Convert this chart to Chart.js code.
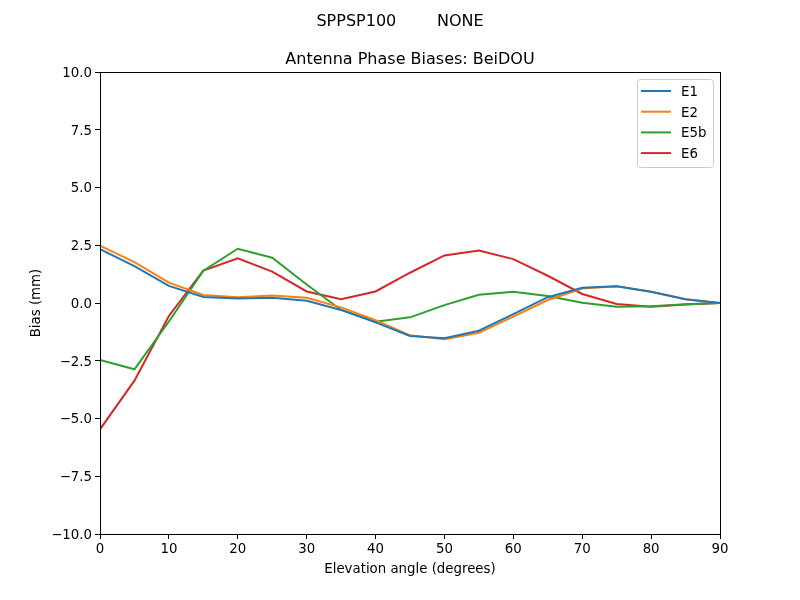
<!DOCTYPE html>
<html>
<head>
<meta charset="utf-8">
<script src="https://cdn.jsdelivr.net/npm/chart.js@4.4.0/dist/chart.umd.min.js"></script>
<style>
  html, body { margin: 0; padding: 0; background: #fff; }
  #wrap { width: 800px; height: 600px; }
</style>
</head>
<body>
<div id="wrap"><canvas id="biasChart" width="800" height="600"></canvas></div>
<script>
// elevation angles (degrees)
const angles = [0, 5, 10, 15, 20, 25, 30, 35, 40, 45, 50, 55, 60, 65, 70, 75, 80, 85, 90];

// bias values (mm)
const e1  = [2.33, 1.6, 0.74, 0.26, 0.19, 0.23, 0.1, -0.3, -0.84, -1.43, -1.53, -1.2, -0.48, 0.25, 0.66, 0.72, 0.49, 0.16, 0];
const e2  = [2.48, 1.77, 0.88, 0.35, 0.25, 0.32, 0.23, -0.19, -0.74, -1.4, -1.57, -1.29, -0.59, 0.13, 0.63, 0.72, 0.49, 0.16, 0];
const e5b = [-2.47, -2.87, -0.8, 1.4, 2.35, 1.96, 0.8, -0.3, -0.81, -0.62, -0.09, 0.36, 0.49, 0.3, 0.01, -0.16, -0.14, -0.05, 0];
const e6  = [-5.47, -3.36, -0.56, 1.4, 1.93, 1.36, 0.5, 0.16, 0.5, 1.31, 2.06, 2.27, 1.9, 1.18, 0.39, -0.04, -0.16, -0.07, 0];

const seriesNames  = ["E1", "E2", "E5b", "E6"];
const seriesData   = [e1, e2, e5b, e6];
const seriesColors = ["#1f77b4", "#ff7f0e", "#2ca02c", "#d62728"];

const suptitle = "SPPSP100        NONE";
const axTitle = "Antenna Phase Biases: BeiDOU";
const xLabel = "Elevation angle (degrees)";
const yLabel = "Bias (mm)";

const FONT = "'DejaVu Sans', sans-serif";

// build datasets
const datasets = seriesNames.map((name, i) => ({
  label: name,
  data: angles.map((a, j) => ({ x: a, y: seriesData[i][j] })),
  borderColor: seriesColors[i],
  backgroundColor: seriesColors[i],
  borderWidth: 2,
  pointRadius: 0,
  tension: 0,
  fill: false
}));

// frame, titles, axis labels, legend
const decorPlugin = {
  id: "decor",
  afterDraw(chart) {
    const c = chart.ctx;
    const a = chart.chartArea;
    c.save();
    // frame
    c.strokeStyle = "#000";
    c.lineWidth = 1;
    c.strokeRect(Math.round(a.left) + 0.5, Math.round(a.top) + 0.5, Math.round(a.right - a.left), Math.round(a.bottom - a.top));

    c.fillStyle = "#000";
    c.textAlign = "center";
    c.textBaseline = "middle";
    c.font = "16px " + FONT;
    c.fillText(suptitle, 400, 21.5);
    c.fillText(axTitle, (a.left + a.right) / 2, 59.5);

    c.font = "13.33px " + FONT;
    c.fillText(xLabel, (a.left + a.right) / 2, 570);
    c.save();
    c.translate(36.5, (a.top + a.bottom) / 2);
    c.rotate(-Math.PI / 2);
    c.fillText(yLabel, 0, 0);
    c.restore();

    // legend box
    const lx = 637, ly = 79, lw = 76, lh = 88;
    c.beginPath();
    c.roundRect(lx + 0.5, ly + 0.5, lw, lh, 3);
    c.fillStyle = "rgba(255,255,255,0.8)";
    c.fill();
    c.strokeStyle = "#cccccc";
    c.stroke();
    c.textAlign = "left";
    seriesNames.forEach((name, i) => {
      const y = 91 + i * 20.7;
      c.strokeStyle = seriesColors[i];
      c.lineWidth = 2;
      c.beginPath();
      c.moveTo(641, y);
      c.lineTo(671, y);
      c.stroke();
      c.fillStyle = "#000";
      c.fillText(name, 681, y + 1.5);
    });
    c.restore();
  }
};

const ctx = document.getElementById("biasChart").getContext("2d");
const biasChart = new Chart(ctx, {
  type: "line",
  data: { datasets: datasets },
  options: {
    responsive: false,
    devicePixelRatio: 1,
    animation: false,
    layout: { padding: { top: 72, right: 80, left: 0, bottom: 0 } },
    plugins: { legend: { display: false }, title: { display: false }, tooltip: { enabled: false } },
    scales: {
      x: {
        type: "linear",
        min: 0,
        max: 90,
        afterFit(scale) { scale.height = 66; },
        ticks: {
          stepSize: 10,
          color: "#000",
          padding: 3,
          maxRotation: 0,
          font: { family: FONT, size: 13.33 },
          callback: v => String(v)
        },
        grid: { drawOnChartArea: false, drawTicks: true, tickLength: 5, color: "#000" },
        border: { display: true, color: "#000", width: 1 }
      },
      y: {
        type: "linear",
        min: -10,
        max: 10,
        afterFit(scale) { scale.width = 100; },
        ticks: {
          stepSize: 2.5,
          color: "#000",
          padding: 3,
          labelOffset: 1.5,
          font: { family: FONT, size: 13.33 },
          callback: v => (v < 0 ? "\u2212" + Math.abs(v).toFixed(1) : v.toFixed(1))
        },
        grid: { drawOnChartArea: false, drawTicks: true, tickLength: 5, color: "#000" },
        border: { display: true, color: "#000", width: 1 }
      }
    }
  },
  plugins: [decorPlugin]
});
</script>
</body>
</html>
